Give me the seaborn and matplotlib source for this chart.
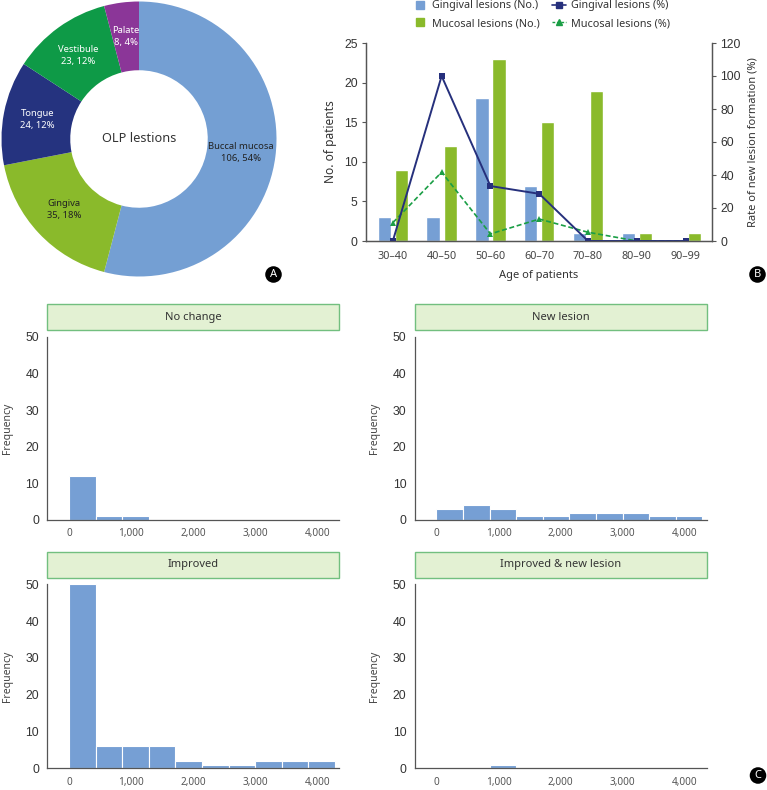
import numpy as np
import pandas as pd
import matplotlib
matplotlib.use("Agg")
import matplotlib.pyplot as plt
import seaborn as sns
from matplotlib.patches import Rectangle
from matplotlib.lines import Line2D
from matplotlib.ticker import FuncFormatter, MultipleLocator

sns.set_theme(style="white")
plt.rcParams["font.family"] = ["Noto Sans", "DejaVu Sans"]

# ---------------- Data ----------------
# Panel A
site_labels = ["Buccal mucosa", "Gingiva", "Tongue", "Vestibule", "Palate"]
site_counts = [106, 35, 24, 23, 8]
site_colors = ["#749fd3", "#8aba2b", "#25337f", "#0e9a47", "#8b3698"]
site_text_colors = ["#222222", "#222222", "white", "white", "white"]
center_label = "OLP lestions"

# Panel B
age_groups = ["30–40", "40–50", "50–60", "60–70", "70–80", "80–90", "90–99"]
gingival_no = [3, 3, 18, 7, 1, 1, 0]
mucosal_no = [9, 12, 23, 15, 19, 1, 1]
gingival_pct = [0, 100, 33.3, 28.6, 0, 0, 0]
mucosal_pct = [11.1, 41.7, 4.3, 13.3, 5.3, 0, 0]

# Panel C (histogram bin counts, bin width 428)
bin_width = 428
n_bins = 10
no_change_counts = [12, 1, 1, 0, 0, 0, 0, 0, 0, 0]
new_lesion_counts = [3, 4, 3, 1, 1, 2, 2, 2, 1, 1]
improved_counts = [50, 6, 6, 6, 2, 1, 1, 2, 2, 2]
improved_new_counts = [0, 0, 1, 0, 0, 0, 0, 0, 0, 0]
facet_titles = ["No change", "New lesion", "Improved", "Improved & new lesion"]

BLUE = "#769fd4"
GREEN = "#8aba2b"
NAVY = "#26307c"
DGREEN = "#1a9e45"
SPINE = "#555555"
TXT = "#333333"
NUMFONT = ["Liberation Sans", "DejaVu Sans"]

W, H = 767, 790
fig = plt.figure(figsize=(W / 100, H / 100), dpi=100)


def fx(px):
    return px / W


def fy(py):
    return 1 - py / H


def numfont(ax, axis="y", size=8.5):
    labels = ax.get_yticklabels() if axis == "y" else ax.get_xticklabels()
    for lab in labels:
        lab.set_family(NUMFONT)
        lab.set_fontsize(size)


# ---------------- Panel A: donut ----------------
axA = fig.add_axes([fx(1.5), fy(276.5), fx(275), 275 / H])
wedges, texts = axA.pie(
    site_counts,
    colors=site_colors,
    startangle=90,
    counterclock=False,
    radius=1,
    labels=[f"{l}\n{c}, {round(100 * c / sum(site_counts))}%" for l, c in zip(site_labels, site_counts)],
    labeldistance=0.75,
    wedgeprops=dict(width=0.5, edgecolor="none"),
    textprops=dict(fontsize=6.8, linespacing=1.45),
)
for t, c in zip(texts, site_text_colors):
    t.set_ha("center")
    t.set_va("center")
    t.set_color(c)
axA.text(0, 0, center_label, ha="center", va="center", fontsize=9.2, color="#333333")
axA.set_xlim(-1, 1)
axA.set_ylim(-1, 1)
axA.set_aspect("equal")
axA.axis("off")

# ---------------- Panel B: bars + lines ----------------
axB = fig.add_axes([fx(366), fy(241), fx(712 - 366), (241 - 43) / H])
dfB = pd.DataFrame({
    "Age": age_groups * 2,
    "Count": gingival_no + mucosal_no,
    "Type": ["Gingival lesions (No.)"] * len(age_groups) + ["Mucosal lesions (No.)"] * len(age_groups),
})
sns.barplot(data=dfB, x="Age", y="Count", hue="Type", palette=[BLUE, GREEN],
            width=0.7, gap=0.22, saturation=1, ax=axB, legend=False)
axR = axB.twinx()
pos = np.arange(len(age_groups))
dfL = pd.DataFrame({"pos": pos, "g": gingival_pct, "m": mucosal_pct})
sns.lineplot(data=dfL, x="pos", y="m", ax=axR, color=DGREEN, marker="^", linestyle=(0, (3, 1.6)),
             linewidth=1.2, markersize=5, markeredgewidth=0)
sns.lineplot(data=dfL, x="pos", y="g", ax=axR, color=NAVY, marker="s",
             linewidth=1.4, markersize=5, markeredgewidth=0)
axB.set_ylim(0, 25)
axR.set_ylim(0, 120)
axB.set_xlim(-0.55, 6.54)
axB.yaxis.set_major_locator(MultipleLocator(5))
axR.yaxis.set_major_locator(MultipleLocator(20))
axB.set_xlabel("Age of patients", fontsize=8, color=TXT, labelpad=6)
axB.set_ylabel("No. of patients", fontsize=8.6, color=TXT, labelpad=5)
axR.set_ylabel("Rate of new lesion formation (%)", fontsize=8, color=TXT, labelpad=5)
for ax in (axB, axR):
    for s in ax.spines.values():
        s.set_color(SPINE)
        s.set_linewidth(0.9)
    ax.spines["top"].set_visible(False)
axB.tick_params(axis="y", direction="out", length=3, width=0.8, color=SPINE, labelcolor=TXT, pad=3)
axR.tick_params(axis="y", direction="out", length=3, width=0.8, color=SPINE, labelcolor=TXT, pad=3)
numfont(axB, "y", 8.8)
numfont(axR, "y", 8.8)
axB.tick_params(axis="x", which="major", length=0, labelsize=7.8, labelcolor="#444444", pad=7)
axB.set_xticks(pos[:-1] + 0.5, minor=True)
axB.tick_params(axis="x", which="minor", direction="in", length=4, width=0.8, color=SPINE)

handles = [
    Line2D([0], [0], color=BLUE, marker="s", markersize=6, linestyle="none", label="Gingival lesions (No.)"),
    Line2D([0], [0], color=GREEN, marker="s", markersize=6, linestyle="none", label="Mucosal lesions (No.)"),
    Line2D([0], [0], color=NAVY, marker="s", markersize=4, linewidth=1.2, label="Gingival lesions (%)"),
    Line2D([0], [0], color=DGREEN, marker="^", markersize=4, linewidth=1.0, linestyle=(0, (2, 1.2)), label="Mucosal lesions (%)"),
]
fig.legend(handles=handles, ncol=2, loc="upper left", bbox_to_anchor=(fx(409), fy(-4)),
           frameon=False, fontsize=7.8, handlelength=1.3, handletextpad=0.45,
           columnspacing=1.1, labelspacing=0.62, labelcolor=TXT, borderaxespad=0)

# ---------------- Panel C: histograms ----------------
edges = [i * bin_width for i in range(n_bins + 1)]
centers = [e + bin_width / 2 for e in edges[:-1]]
hist_data = [no_change_counts, new_lesion_counts, improved_counts, improved_new_counts]
axes_px = [
    (47.3, 336.7, 339.3, 520.0),
    (414.7, 336.7, 706.7, 520.0),
    (47.3, 584.3, 339.3, 768.3),
    (414.7, 584.3, 706.7, 768.3),
]
for title, counts, (x0, y0, x1, y1) in zip(facet_titles, hist_data, axes_px):
    ax = fig.add_axes([fx(x0), fy(y1), fx(x1 - x0), (y1 - y0) / H])
    dfh = pd.DataFrame({"days": centers, "n": counts})
    sns.histplot(data=dfh, x="days", weights="n", bins=edges, ax=ax, color=BLUE, alpha=1,
                 edgecolor="white", linewidth=0.8, stat="count")
    ax.set_xlim(-350, 4350)
    ax.set_ylim(0, 50)
    ax.set_xticks([0, 1000, 2000, 3000, 4000])
    ax.yaxis.set_major_locator(MultipleLocator(10))
    ax.xaxis.set_major_formatter(FuncFormatter(lambda v, p: f"{int(v):,}"))
    ax.set_xlabel("")
    ax.set_ylabel("Frequency", fontsize=7.5, color="#444444", labelpad=9)
    for side in ("top", "right"):
        ax.spines[side].set_visible(False)
    for side in ("left", "bottom"):
        ax.spines[side].set_color(SPINE)
        ax.spines[side].set_linewidth(0.9)
        ax.spines[side].set_zorder(5)
    ax.tick_params(axis="y", direction="out", length=3, width=0.8, color=SPINE,
                   labelcolor=TXT, pad=3)
    numfont(ax, "y", 8.8)
    ax.tick_params(axis="x", direction="in", length=4, width=0.8, color=SPINE,
                   labelsize=7.2, labelcolor="#555555", pad=6)
    hpx = y1 - y0
    ax.add_patch(Rectangle((0, 1 + 6.5 / hpx), 1, 26 / hpx, transform=ax.transAxes,
                           facecolor="#e3f1d3", edgecolor="#72bf7f", linewidth=1.0, clip_on=False))
    ax.text(0.5, 1 + (6.5 + 13) / hpx, title, transform=ax.transAxes, ha="center", va="center",
            fontsize=8, color="#333333")

# ---------------- Panel badges ----------------
for letter, (bx, by) in zip("ABC", [(273.5, 274.5), (757.5, 274.5), (758, 775.5)]):
    fig.text(fx(bx), fy(by), letter, ha="center", va="center", color="white",
             fontsize=8, fontweight="bold",
             bbox=dict(boxstyle="circle,pad=0.25", facecolor="black", edgecolor="none"))

fig.savefig("out.png", dpi=100)
